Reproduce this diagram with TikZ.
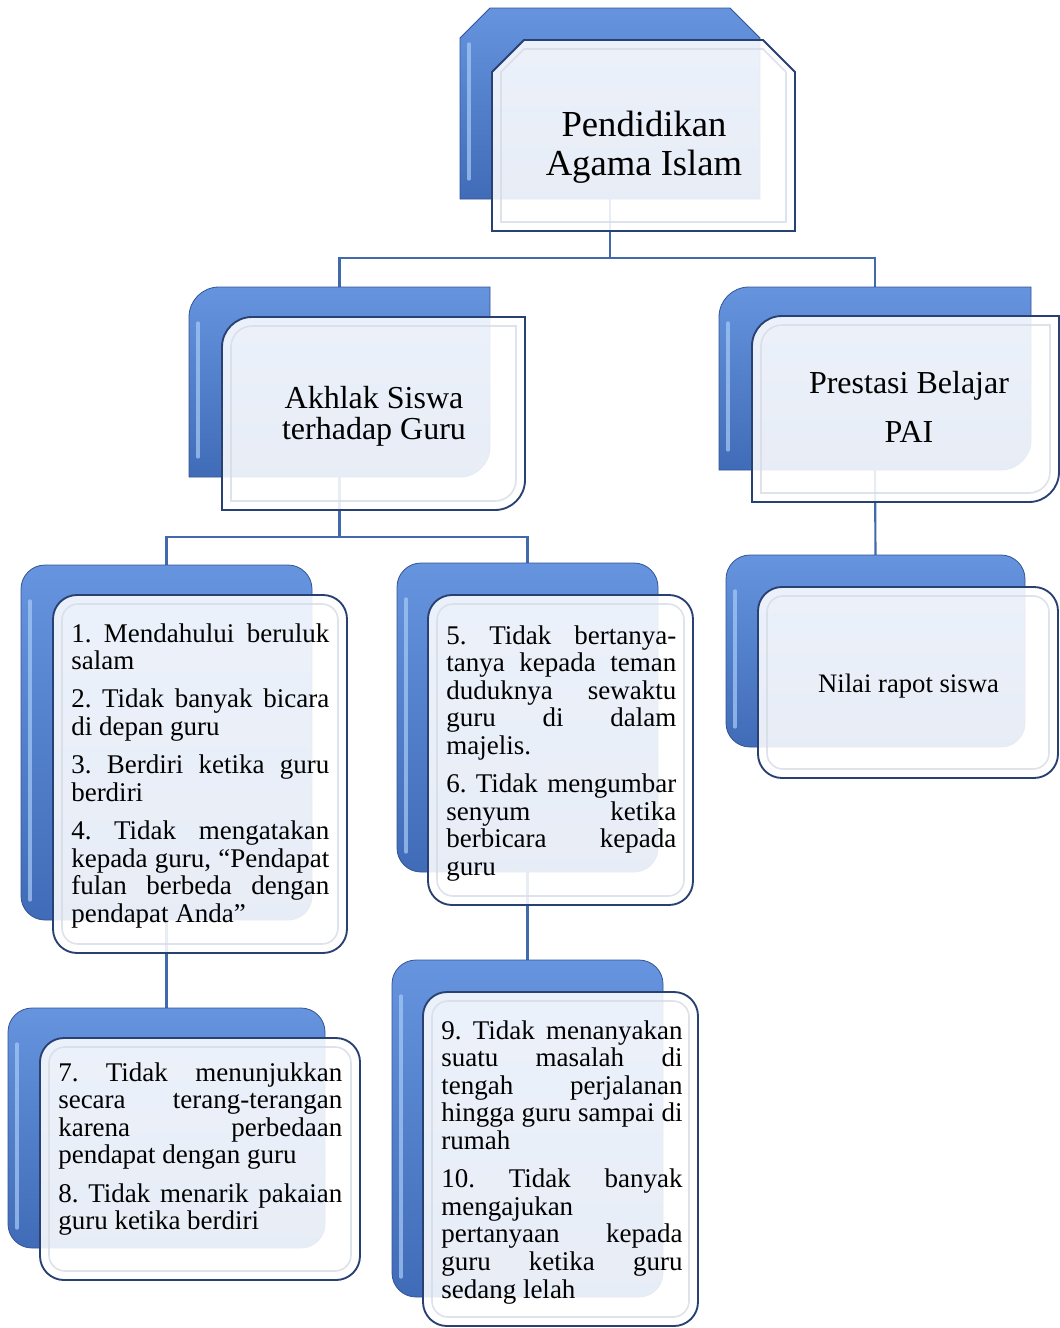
\documentclass[tikz,border=0pt]{standalone}
\usepackage{fontspec}
\setmainfont{Liberation Serif}
\usetikzlibrary{fit}
\frenchspacing
\definecolor{linkblue}{rgb}{0.26,0.41,0.67}
\definecolor{backtop}{rgb}{0.40,0.58,0.87}
\definecolor{backbot}{rgb}{0.25,0.42,0.72}
\definecolor{backedge}{rgb}{0.20,0.33,0.58}
\definecolor{glint}{rgb}{0.66,0.80,0.97}
\definecolor{frontedge}{rgb}{0.16,0.25,0.45}
\definecolor{rim}{rgb}{0.84,0.86,0.90}
\tikzstyle{frame} = [inner sep=0pt, outer sep=0pt]
\tikzstyle{link} = [draw=linkblue, line width=1.6pt]
\tikzstyle{back} = [draw=backedge, line width=0.6pt, top color=backtop, bottom color=backbot]
\tikzstyle{glare} = [draw=glint, line width=2.5pt, line cap=round, opacity=0.7]
\tikzstyle{front} = [draw=frontedge, line width=1.4pt, fill=white, fill opacity=0.88]
\tikzstyle{bevel} = [draw=rim, line width=1.2pt, opacity=0.8]
\tikzstyle{title} = [align=center, inner sep=0pt]
\tikzstyle{items} = [anchor=base west, inner sep=0pt, align=justify,
  font=\fontsize{20.25pt}{20.7pt}\selectfont,
  execute at begin node={\setlength{\parskip}{8pt}\tolerance=10000\hyphenpenalty=10000}]
% outlines drawn round the frames: node, corner, inset
\newcommand{\snippath}[3]{([shift={(#3,#3)}]#1.south west) -- ([shift={(#3,-#2)}]#1.north west) -- ([shift={(#2,-#3)}]#1.north west) -- ([shift={(-#2,-#3)}]#1.north east) -- ([shift={(-#3,-#2)}]#1.north east) -- ([shift={(-#3,#3)}]#1.south east) -- cycle}
\newcommand{\diagpath}[3]{([shift={(#3,#3)}]#1.south west) -- ([shift={(#3,-#2)}]#1.north west) arc[start angle=180, end angle=90, radius=#2-#3] -- ([shift={(-#3,-#3)}]#1.north east) -- ([shift={(-#3,#2)}]#1.south east) arc[start angle=0, end angle=-90, radius=#2-#3] -- cycle}
\newcommand{\roundpath}[3]{[rounded corners=#2] ([shift={(#3,#3)}]#1.south west) rectangle ([shift={(-#3,-#3)}]#1.north east)}
\newcommand{\glarepath}[1]{([shift={(9,-36)}]#1.north west) -- ([shift={(9,20)}]#1.south west)}

\begin{document}
\begin{tikzpicture}[x=0.75pt, y=0.75pt]
    \useasboundingbox (0,0) rectangle (1060,-1328);

    % Place the frames
    \node [frame, fit={(460,-8) (760,-199)}] (rootB) {};
    \node [frame, fit={(492,-40) (795,-231)}] (rootF) {};
    \node [frame, fit={(189,-287) (490,-477)}] (akhlakB) {};
    \node [frame, fit={(222,-317) (525,-510)}] (akhlakF) {};
    \node [frame, fit={(719,-287) (1031,-470)}] (prestasiB) {};
    \node [frame, fit={(752,-316) (1059,-502)}] (prestasiF) {};
    \node [frame, fit={(21,-565) (312,-920)}] (adabaB) {};
    \node [frame, fit={(53,-595) (347,-953)}] (adabaF) {};
    \node [frame, fit={(397,-563) (658,-872)}] (adabbB) {};
    \node [frame, fit={(428,-595) (693,-905)}] (adabbF) {};
    \node [frame, fit={(726,-555) (1025,-747)}] (nilaiB) {};
    \node [frame, fit={(758,-587) (1058,-778)}] (nilaiF) {};
    \node [frame, fit={(8,-1008) (325,-1248)}] (adabcB) {};
    \node [frame, fit={(40,-1038) (360,-1280)}] (adabcF) {};
    \node [frame, fit={(392,-960) (663,-1297)}] (adabdB) {};
    \node [frame, fit={(423,-992) (698,-1326)}] (adabdF) {};

    % Connect the frames
    \draw [link] (rootB.south) -- ++(0,-59) coordinate (fork1) -| (akhlakB.north);
    \draw [link] (fork1) -| (prestasiB.north);
    \draw [link] (akhlakB.south) -- ++(0,-60) coordinate (fork2) -| (adabaB.north);
    \draw [link] (fork2) -| (adabbB.north);
    \draw [link] (prestasiB.south) -- (nilaiB.north);
    \draw [link] (adabaB.south) -- (adabcB.north);
    \draw [link] (adabbB.south) -- (adabdB.north);

    % Back shapes
    \path [back] \snippath{rootB}{30}{0};
    \path [back] \diagpath{akhlakB}{30}{0};
    \path [back] \diagpath{prestasiB}{30}{0};
    \path [back] \roundpath{adabaB}{18pt}{0};
    \path [back] \roundpath{adabbB}{18pt}{0};
    \path [back] \roundpath{nilaiB}{18pt}{0};
    \path [back] \roundpath{adabcB}{18pt}{0};
    \path [back] \roundpath{adabdB}{18pt}{0};
    \foreach \b in {rootB, akhlakB, prestasiB, adabaB, adabbB, nilaiB, adabcB, adabdB}
      \draw [glare] \glarepath{\b};

    % Front shapes
    \path [front] \snippath{rootF}{32}{0};
    \path [front] \diagpath{akhlakF}{30}{0};
    \path [front] \diagpath{prestasiF}{30}{0};
    \path [front] \roundpath{adabaF}{18pt}{0};
    \path [front] \roundpath{adabbF}{18pt}{0};
    \path [front] \roundpath{nilaiF}{18pt}{0};
    \path [front] \roundpath{adabcF}{18pt}{0};
    \path [front] \roundpath{adabdF}{18pt}{0};
    \draw [bevel] \snippath{rootF}{32}{9};
    \draw [bevel] \diagpath{akhlakF}{30}{9};
    \draw [bevel] \diagpath{prestasiF}{30}{9};
    \foreach \f in {adabaF, adabbF, nilaiF, adabcF, adabdF}
      \draw [bevel] \roundpath{\f}{12pt}{9};

    % Texts
    \node [title, font=\fontsize{27.5pt}{29.25pt}\selectfont] (rootT) at (644,-147) {Pendidikan\\Agama Islam};
    \node [title, font=\fontsize{24pt}{23.25pt}\selectfont] (akhlakT) at (374,-416) {Akhlak Siswa\\terhadap Guru};
    \node [title, font=\fontsize{24pt}{36.75pt}\selectfont] (prestasiT) at (909,-406.5) {Prestasi Belajar\\PAI};
    \node [title, anchor=base, font=\fontsize{20pt}{24pt}\selectfont] (nilaiT) at (908.5,-692) {Nilai rapot siswa};
    \node [items, text width=193.5pt] (adabaT) at (71,-642) {1. Mendahului beruluk\linebreak salam\par
      2. Tidak banyak bicara\linebreak di depan guru\par
      3. Berdiri ketika guru\linebreak berdiri\par
      4. Tidak mengatakan\linebreak kepada guru, “Pendapat\linebreak fulan berbeda dengan\linebreak pendapat Anda”};
    \node [items, text width=172.5pt] (adabbT) at (446,-644) {5. Tidak bertanya-\linebreak tanya kepada teman\linebreak duduknya sewaktu\linebreak guru di dalam\linebreak majelis.\par
      6. Tidak mengumbar\linebreak senyum ketika\linebreak berbicara kepada\linebreak guru};
    \node [items, text width=213pt] (adabcT) at (58,-1081) {7. Tidak menunjukkan\linebreak secara terang-terangan\linebreak karena perbedaan\linebreak pendapat dengan guru\par
      8. Tidak menarik pakaian\linebreak guru ketika berdiri};
    \node [items, text width=181pt] (adabdT) at (441,-1039) {9. Tidak menanyakan\linebreak suatu masalah di\linebreak tengah perjalanan\linebreak hingga guru sampai di\linebreak rumah\par
      10. Tidak banyak\linebreak mengajukan\linebreak pertanyaan kepada\linebreak guru ketika guru\linebreak sedang lelah};
\end{tikzpicture}
\end{document}
